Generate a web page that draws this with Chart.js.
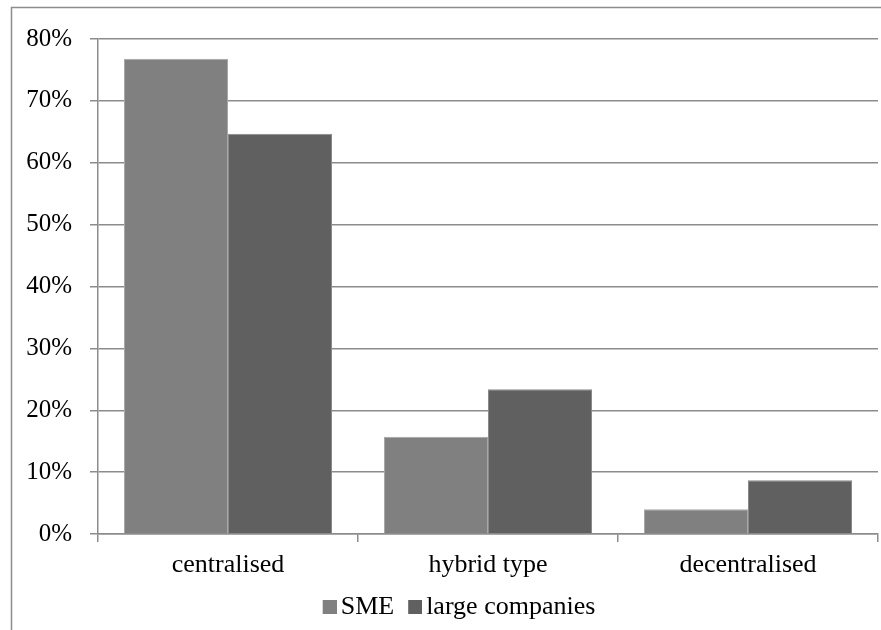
<!DOCTYPE html>
<html>
<head>
<meta charset="utf-8">
<script src="https://cdn.jsdelivr.net/npm/chart.js@4/dist/chart.umd.min.js"></script>
<style>
  html, body { margin: 0; padding: 0; background: #fff; }
  #wrap { width: 881px; height: 630px; position: relative; }
</style>
</head>
<body>
<div id="wrap"><canvas id="c" width="881" height="630"></canvas></div>
<script>
// Organisational structure by company size
const categories = ['centralised', 'hybrid type', 'decentralised'];
const smeValues = [76.8, 15.7, 4.0];
const largeValues = [64.7, 23.4, 8.7];
const seriesNames = ['SME', 'large companies'];
const seriesColors = ['#808080', '#606060'];
const yTicks = [0, 10, 20, 30, 40, 50, 60, 70, 80];

const FONT = '"Liberation Serif", "Times New Roman", serif';
const GRID = '#8c8c8c';

// Legend swatch: a small square sitting at the right of a wider transparent canvas,
// so the gap between swatch and text stays tight.
function makeSwatch(color) {
  const c = document.createElement('canvas');
  c.width = 31;
  c.height = 14;
  const g = c.getContext('2d');
  g.fillStyle = color;
  g.fillRect(17, 0, 14, 14);
  return c;
}
const swatches = seriesColors.map(makeSwatch);

// Outer frame around the chart (open at the right and bottom edges)
const framePlugin = {
  id: 'frame',
  beforeDraw(chart) {
    const ctx = chart.ctx;
    ctx.save();
    ctx.fillStyle = '#fff';
    ctx.fillRect(0, 0, chart.width, chart.height);
    ctx.strokeStyle = '#8c8c8c';
    ctx.lineWidth = 1.5;
    ctx.beginPath();
    ctx.moveTo(11.5, chart.height);
    ctx.lineTo(11.5, 7.5);
    ctx.lineTo(chart.width, 7.5);
    ctx.stroke();
    ctx.restore();
  },
  // legend sits slightly right of the canvas centre and a little lower
  afterLayout(chart) {
    if (chart.legend) {
      chart.legend.left += 16;
      chart.legend.right += 16;
      chart.legend.top += 3;
      chart.legend.bottom += 3;
    }
  }
};

new Chart(document.getElementById('c'), {
  type: 'bar',
  data: {
    labels: categories,
    datasets: [
      { label: seriesNames[0], data: smeValues, backgroundColor: seriesColors[0], borderColor: '#a8a8a8', borderWidth: 1 },
      { label: seriesNames[1], data: largeValues, backgroundColor: seriesColors[1], borderColor: '#8a8a8a', borderWidth: 1 }
    ]
  },
  options: {
    responsive: false,
    animation: false,
    devicePixelRatio: 1,
    layout: { padding: { left: 0, right: 3, top: 39, bottom: 3 } },
    datasets: { bar: { categoryPercentage: 0.8, barPercentage: 1.0 } },
    plugins: {
      legend: {
        position: 'bottom',
        labels: {
          font: { family: FONT, size: 26 },
          color: '#000',
          usePointStyle: true,
          pointStyleWidth: 13,
          boxHeight: 14,
          padding: 6,
          generateLabels(chart) {
            const items = Chart.defaults.plugins.legend.labels.generateLabels(chart);
            items.forEach((it, i) => { it.pointStyle = swatches[i]; });
            return items;
          }
        }
      },
      tooltip: { enabled: false }
    },
    scales: {
      x: {
        grid: { offset: true, drawOnChartArea: false, drawTicks: true, tickLength: 8, color: GRID, lineWidth: 1.5 },
        border: { color: GRID, width: 1.5 },
        ticks: { font: { family: FONT, size: 26 }, color: '#000', padding: 8, maxRotation: 0 },
        afterFit(scale) { scale.height = 51; }
      },
      y: {
        min: 0,
        max: 80,
        afterBuildTicks(scale) { scale.ticks = yTicks.map(v => ({ value: v })); },
        grid: { color: GRID, lineWidth: 1.5, tickLength: 8 },
        border: { color: GRID, width: 1.5 },
        ticks: {
          font: { family: FONT, size: 25 },
          color: '#000',
          padding: 18,
          callback: v => v + '%'
        },
        afterFit(scale) { scale.width = 98; }
      }
    }
  },
  plugins: [framePlugin]
});
</script>
</body>
</html>
